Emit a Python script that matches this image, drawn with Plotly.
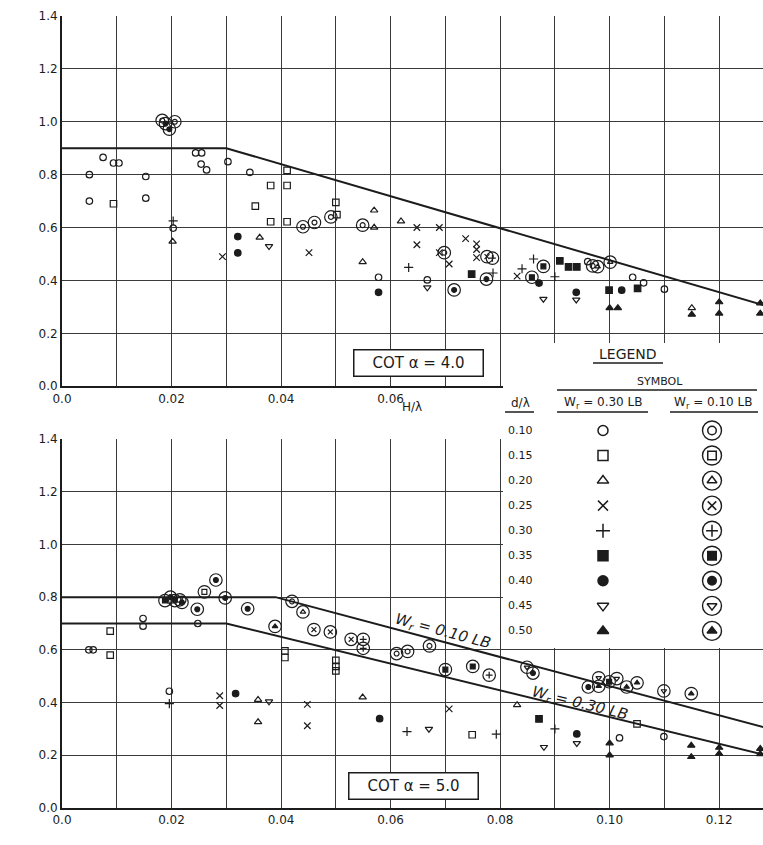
import plotly.graph_objects as go

# ------------------------------------------------------------------ data
# Upper panel (cot alpha = 4.0) -- W_r = 0.30 LB (plain symbols)
top30_H = [0.0050, 0.0050, 0.0075, 0.0094, 0.0104, 0.0153, 0.0153, 0.0203, 0.0244, 0.0255,
           0.0254, 0.0264, 0.0303, 0.0343, 0.0578, 0.0667, 0.0960, 0.1042, 0.1062, 0.1100,
           0.0094, 0.0353, 0.0381, 0.0411, 0.0411, 0.0381, 0.0411, 0.0500, 0.0502,
           0.0202, 0.0361, 0.0549, 0.0570, 0.0570, 0.0619, 0.1150,
           0.0293, 0.0451, 0.0648, 0.0689, 0.0648, 0.0689, 0.0707, 0.0737, 0.0757, 0.0757,
           0.0757, 0.0831,
           0.0203, 0.0633, 0.0787, 0.0840, 0.0861, 0.0900,
           0.0748, 0.0909, 0.0925, 0.0940, 0.0999, 0.1051,
           0.0321, 0.0321, 0.0578, 0.0871, 0.0939, 0.1022,
           0.0378, 0.0667, 0.0879, 0.0939,
           0.1000, 0.1015, 0.1150, 0.1200, 0.1200, 0.1275, 0.1275]
top30_R = [0.800, 0.700, 0.865, 0.844, 0.844, 0.793, 0.711, 0.598, 0.882, 0.882,
           0.840, 0.818, 0.849, 0.809, 0.412, 0.402, 0.471, 0.412, 0.391, 0.367,
           0.690, 0.681, 0.759, 0.759, 0.816, 0.622, 0.622, 0.695, 0.649,
           0.547, 0.562, 0.470, 0.600, 0.665, 0.624, 0.296,
           0.490, 0.505, 0.600, 0.600, 0.535, 0.505, 0.462, 0.558, 0.538, 0.517,
           0.486, 0.416,
           0.625, 0.449, 0.428, 0.444, 0.481, 0.414,
           0.424, 0.474, 0.451, 0.451, 0.363, 0.370,
           0.566, 0.504, 0.355, 0.390, 0.355, 0.363,
           0.529, 0.373, 0.330, 0.327,
           0.296, 0.296, 0.271, 0.318, 0.275, 0.314, 0.275]
top30_d = [0.10] * 20 + [0.15] * 9 + [0.20] * 7 + [0.25] * 12 + [0.30] * 6 + \
          [0.35] * 6 + [0.40] * 6 + [0.45] * 4 + [0.50] * 7

# Upper panel -- W_r = 0.10 LB (circled symbols)
top10_H = [0.0183, 0.0189, 0.0196, 0.0206, 0.0440, 0.0461, 0.0491, 0.0549, 0.0698, 0.0716,
           0.0775, 0.0776, 0.0786, 0.0858, 0.0879, 0.0969, 0.0978, 0.1001]
top10_R = [1.005, 0.993, 0.972, 1.000, 0.603, 0.619, 0.640, 0.609, 0.505, 0.364,
           0.405, 0.490, 0.484, 0.412, 0.453, 0.455, 0.452, 0.469]
top10_d = [0.10, 0.40, 0.40, 0.10, 0.10, 0.10, 0.10, 0.10, 0.10, 0.40,
           0.40, 0.25, 0.30, 0.35, 0.35, 0.10, 0.20, 0.20]

# Lower panel (cot alpha = 5.0) -- W_r = 0.30 LB
bot30_H = [0.0049, 0.0057, 0.0148, 0.0148, 0.0248, 0.0196, 0.1018, 0.1099,
           0.0088, 0.0088, 0.0407, 0.0407, 0.0500, 0.0500, 0.0500, 0.0749, 0.1050,
           0.0358, 0.0358, 0.0549, 0.0831,
           0.0288, 0.0288, 0.0448, 0.0448, 0.0707,
           0.0196, 0.0630, 0.0793, 0.0900,
           0.0871,
           0.0317, 0.0580, 0.0940,
           0.0378, 0.0670, 0.0880, 0.0940,
           0.1000, 0.1000, 0.1149, 0.1149, 0.1200, 0.1200, 0.1275, 0.1275]
bot30_R = [0.600, 0.600, 0.719, 0.690, 0.700, 0.443, 0.266, 0.271,
           0.671, 0.580, 0.596, 0.571, 0.560, 0.537, 0.520, 0.278, 0.319,
           0.411, 0.326, 0.420, 0.391,
           0.426, 0.389, 0.393, 0.312, 0.376,
           0.396, 0.290, 0.280, 0.300,
           0.338,
           0.434, 0.339, 0.281,
           0.404, 0.300, 0.231, 0.246,
           0.246, 0.200, 0.237, 0.194, 0.229, 0.206, 0.225, 0.205]
bot30_d = [0.10] * 8 + [0.15] * 9 + [0.20] * 4 + [0.25] * 5 + [0.30] * 4 + \
          [0.35] * 1 + [0.40] * 3 + [0.45] * 4 + [0.50] * 8

# Lower panel -- W_r = 0.10 LB
bot10_H = [0.0188, 0.0198, 0.0206, 0.0215, 0.0219, 0.0247, 0.0260, 0.0281, 0.0298, 0.0339,
           0.0389, 0.0420, 0.0440, 0.0460, 0.0490, 0.0528, 0.0550, 0.0550, 0.0611, 0.0631,
           0.0671, 0.0700, 0.0750, 0.0780, 0.0849, 0.0860, 0.0961, 0.0980, 0.0980, 0.0999,
           0.1013, 0.1031, 0.1050, 0.1099, 0.1149]
bot10_R = [0.787, 0.800, 0.787, 0.790, 0.780, 0.754, 0.820, 0.865, 0.797, 0.756,
           0.689, 0.784, 0.744, 0.677, 0.668, 0.640, 0.640, 0.606, 0.586, 0.594,
           0.615, 0.525, 0.537, 0.504, 0.534, 0.512, 0.459, 0.494, 0.462, 0.479,
           0.491, 0.459, 0.475, 0.444, 0.434]
bot10_d = [0.35, 0.40, 0.40, 0.15, 0.40, 0.40, 0.15, 0.40, 0.40, 0.40,
           0.50, 0.10, 0.20, 0.25, 0.25, 0.25, 0.30, 0.30, 0.10, 0.10,
           0.10, 0.35, 0.35, 0.30, 0.45, 0.40, 0.40, 0.45, 0.50, 0.35,
           0.45, 0.50, 0.50, 0.45, 0.50]

# Envelope (design) lines
env_top_H = [0.0, 0.03, 0.13]
env_top_R = [0.9, 0.9, 0.295]
env10_H = [0.0, 0.039, 0.13]
env10_R = [0.8, 0.8, 0.296]
env30_H = [0.0, 0.03, 0.13]
env30_R = [0.7, 0.7, 0.193]

# Legend / ticks
d_levels = [0.10, 0.15, 0.20, 0.25, 0.30, 0.35, 0.40, 0.45, 0.50]
d_labels = ["0.10", "0.15", "0.20", "0.25", "0.30", "0.35", "0.40", "0.45", "0.50"]
grid_x = [0.00, 0.01, 0.02, 0.03, 0.04, 0.05, 0.06, 0.07, 0.08, 0.09, 0.10, 0.11, 0.12]
x_ticks_bot = [0.00, 0.02, 0.04, 0.06, 0.08, 0.10, 0.12]
x_labels_bot = ["0.0", "0.02", "0.04", "0.06", "0.08", "0.10", "0.12"]
x_ticks_top = [0.00, 0.02, 0.04, 0.06]
x_labels_top = ["0.0", "0.02", "0.04", "0.06"]
y_ticks = [0.0, 0.2, 0.4, 0.6, 0.8, 1.0, 1.2, 1.4]
y_labels = ["0.0", "0.2", "0.4", "0.6", "0.8", "1.0", "1.2", "1.4"]

# ------------------------------------------------------------------ style
INK = "#1c1c1c"
GRID = "#3a3a3a"
FONT = "DejaVu Sans"
SYM = {0.10: "circle-open", 0.15: "square-open", 0.20: "triangle-up-open",
       0.25: "x-thin-open", 0.30: "cross-thin-open", 0.35: "square",
       0.40: "circle", 0.45: "triangle-down-open", 0.50: "triangle-up"}

W, H = 763, 845
ML, MT, MB = 62, 16, 37
PLOT_H = H - MT - MB
top_lo = (808.3 - 386.5) / PLOT_H
bot_hi = (808.3 - 439.3) / PLOT_H

fig = go.Figure()


def add_points(Hs, Rs, ds, xa, ya, circled, inner=6.5, outer=12.5):
    for dl in d_levels:
        xs = [h for h, d in zip(Hs, ds) if abs(d - dl) < 1e-9]
        ys = [r for r, d in zip(Rs, ds) if abs(d - dl) < 1e-9]
        if not xs:
            continue
        if circled:
            fig.add_trace(go.Scatter(x=xs, y=ys, mode="markers", xaxis=xa, yaxis=ya,
                                     showlegend=False, hoverinfo="skip",
                                     marker=dict(symbol="circle-open", size=outer, color=INK,
                                                 line=dict(width=1.2, color=INK))))
            sz = inner * 0.75
        else:
            sz = inner
        fig.add_trace(go.Scatter(x=xs, y=ys, mode="markers", xaxis=xa, yaxis=ya,
                                 showlegend=False,
                                 marker=dict(symbol=SYM[dl], size=sz, color=INK,
                                             line=dict(width=1.2, color=INK))))


def add_line(xs, ys, xa, ya):
    fig.add_trace(go.Scatter(x=xs, y=ys, mode="lines", xaxis=xa, yaxis=ya,
                             showlegend=False, hoverinfo="skip",
                             line=dict(color=INK, width=2)))


add_line(env_top_H, env_top_R, "x", "y")
add_points(top30_H, top30_R, top30_d, "x", "y", False)
add_points(top10_H, top10_R, top10_d, "x", "y", True)

add_line(env10_H, env10_R, "x2", "y2")
add_line(env30_H, env30_R, "x2", "y2")
add_points(bot30_H, bot30_R, bot30_d, "x2", "y2", False)
add_points(bot10_H, bot10_R, bot10_d, "x2", "y2", True)

# ---------------- overlay (pixel-coordinate) layer for the legend table
LX0, LX1, LY0, LY1 = 503, 763, 343, 648
fig.add_trace(go.Scatter(x=[LX0, LX1, LX1, LX0, LX0], y=[LY0, LY0, LY1, LY1, LY0],
                         mode="lines", fill="toself", fillcolor="white",
                         line=dict(width=0, color="white"), xaxis="x3", yaxis="y3",
                         showlegend=False, hoverinfo="skip"))

row_y = [430.5 + 25.05 * i for i in range(len(d_levels))]
col_plain, col_circ, col_d = 603, 712, 520
fig.add_trace(go.Scatter(x=[col_circ] * len(d_levels), y=row_y, mode="markers",
                         xaxis="x3", yaxis="y3", showlegend=False, hoverinfo="skip",
                         marker=dict(symbol="circle-open", size=19, color=INK,
                                     line=dict(width=1.4, color=INK))))
for i, dl in enumerate(d_levels):
    for cx, sz in ((col_plain, 10), (col_circ, 8.5)):
        fig.add_trace(go.Scatter(x=[cx], y=[row_y[i]], mode="markers",
                                 xaxis="x3", yaxis="y3", showlegend=False, hoverinfo="skip",
                                 marker=dict(symbol=SYM[dl], size=sz, color=INK,
                                             line=dict(width=1.5, color=INK))))

# underlines in the legend
for (x0, x1, yy) in ((593, 663, 363), (557, 757, 390), (505, 534, 412),
                     (557, 648, 412), (670, 758, 412)):
    fig.add_trace(go.Scatter(x=[x0, x1], y=[yy, yy], mode="lines", xaxis="x3", yaxis="y3",
                             showlegend=False, hoverinfo="skip",
                             line=dict(color=INK, width=1.5)))

ann = []


def txt(x, y, s, size=11, angle=0, **kw):
    ann.append(dict(x=x, y=y, xref="x3", yref="y3", text=s, showarrow=False,
                    textangle=angle, font=dict(family=FONT, size=size, color=INK), **kw))


txt(628, 354, "LEGEND", 14)
txt(660, 381, "SYMBOL", 11)
txt(520, 403, "d/λ", 12)
txt(603, 403, "W<sub>r</sub> = 0.30 LB", 12)
txt(713, 403, "W<sub>r</sub> = 0.10 LB", 12)
for i, lab in enumerate(d_labels):
    txt(col_d, row_y[i], lab, 11)

# boxes
txt(418, 363, "COT α = 4.0", 15, bordercolor=INK, borderwidth=1.5, borderpad=3,
    width=122, height=19, bgcolor="white")
txt(413.5, 785.5, "COT α = 5.0", 15, bordercolor=INK, borderwidth=1.5, borderpad=3,
    width=122, height=19, bgcolor="white")

# line labels
txt(443, 631, "<i>W<sub>r</sub> = 0.10 LB</i>", 15, angle=15)
txt(580, 703, "<i>W<sub>r</sub> = 0.30 LB</i>", 15, angle=14)

# axis titles
txt(30, 195, "R/H", 13, angle=-90)
txt(30, 610, "R/H", 13, angle=-90)
txt(412, 407, "H/λ", 12)
txt(410, 836, "H/λ", 12)

axis_common = dict(showgrid=True, gridcolor=GRID, gridwidth=1.3, zeroline=False,
                   showline=True, linecolor=INK, linewidth=2, ticks="",
                   tickfont=dict(family=FONT, size=12, color=INK), automargin=False)
minor_x = dict(tickmode="array", tickvals=grid_x, showgrid=True, gridcolor=GRID,
               gridwidth=1.3, ticks="")

fig.update_layout(
    width=W, height=H,
    margin=dict(l=ML, r=0, t=MT, b=MB),
    paper_bgcolor="white", plot_bgcolor="rgba(0,0,0,0)",
    xaxis=dict(domain=[0, 1], range=[0, 0.128], anchor="y", tickmode="array",
               tickvals=x_ticks_top, ticktext=x_labels_top, minor=minor_x, **axis_common),
    yaxis=dict(domain=[top_lo, 1], range=[0, 1.4], anchor="x", tickmode="array",
               tickvals=y_ticks, ticktext=y_labels, **axis_common),
    xaxis2=dict(domain=[0, 1], range=[0, 0.128], anchor="y2", tickmode="array",
                tickvals=x_ticks_bot, ticktext=x_labels_bot, minor=minor_x, **axis_common),
    yaxis2=dict(domain=[0, bot_hi], range=[0, 1.4], anchor="x2", tickmode="array",
                tickvals=y_ticks, ticktext=y_labels, **axis_common),
    xaxis3=dict(domain=[0, 1], range=[ML, W], anchor="y3", visible=False),
    yaxis3=dict(domain=[0, 1], range=[H - MB, MT], anchor="x3", visible=False),
    annotations=ann,
)

fig.write_html("out.html", config={"displayModeBar": False},
               post_script="document.body.style.margin='0';"
                           "document.documentElement.style.overflow='hidden';")
